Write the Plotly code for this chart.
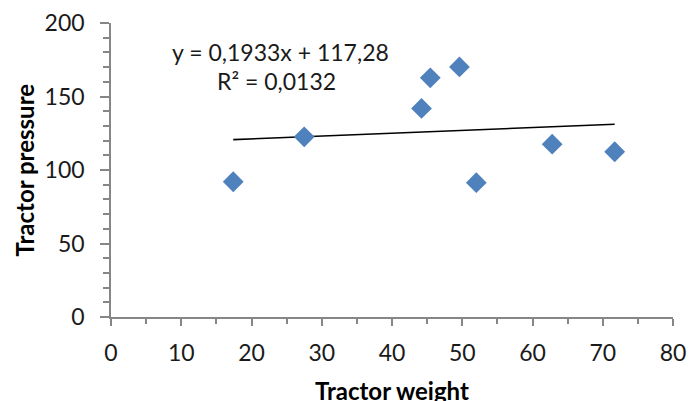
import plotly.graph_objects as go

tractor_weight = [17.4, 27.5, 44.2, 45.45, 49.6, 52.0, 62.8, 71.7]
tractor_pressure = [92.0, 122.6, 141.9, 162.7, 170.1, 91.4, 117.6, 112.4]
trend_slope = 0.1933
trend_intercept = 117.28
equation_text = "y = 0,1933x + 117,28"
r2_text = "R² = 0,0132"
x_title = "Tractor weight"
y_title = "Tractor pressure"

FONT = "Lato"
AXIS_COLOR = "#868686"
TICK_SIZE = 23
TEXT_SIZE = 23
TITLE_SIZE = 24

x0, x1 = min(tractor_weight), max(tractor_weight)
trend_x = [x0, x1]
trend_y = [trend_slope * v + trend_intercept for v in trend_x]

fig = go.Figure()
fig.add_trace(go.Scatter(x=trend_x, y=trend_y, mode="lines",
                         line=dict(color="black", width=1.6),
                         hoverinfo="skip", showlegend=False))
fig.add_trace(go.Scatter(x=tractor_weight, y=tractor_pressure, mode="markers",
                         marker=dict(symbol="diamond", size=16, color="#4F81BD",
                                     line=dict(width=0)),
                         showlegend=False))

fig.add_annotation(x=24.15, y=180.5, xref="x", yref="y", text=equation_text,
                   showarrow=False, font=dict(family=FONT, size=TEXT_SIZE, color="#1a1a1a"),
                   xanchor="center", yanchor="middle")
fig.add_annotation(x=23.6, y=160.5, xref="x", yref="y", text=r2_text,
                   showarrow=False, font=dict(family=FONT, size=TEXT_SIZE, color="#1a1a1a"),
                   xanchor="center", yanchor="middle")

# axis titles
fig.add_annotation(x=0.5, y=-0.25, xref="paper", yref="paper",
                   text="<b>" + x_title + "</b>", showarrow=False,
                   font=dict(family=FONT, size=TITLE_SIZE, color="black"),
                   xanchor="center", yanchor="middle")
fig.add_annotation(x=-0.154, y=0.5, xref="paper", yref="paper",
                   text="<b>" + y_title + "</b>", showarrow=False, textangle=-90,
                   font=dict(family=FONT, size=TITLE_SIZE, color="black"),
                   xanchor="center", yanchor="middle")

fig.update_layout(
    width=689, height=401,
    margin=dict(l=111, r=16, t=23, b=84, autoexpand=False),
    paper_bgcolor="white", plot_bgcolor="white",
    font=dict(family=FONT, size=TICK_SIZE, color="#1a1a1a"),
    xaxis=dict(range=[0, 80], dtick=10, tick0=0, showgrid=False, zeroline=False,
               automargin=False,
               showline=True, linecolor=AXIS_COLOR, linewidth=1.6,
               ticks="outside", ticklen=7, tickwidth=1.6, tickcolor=AXIS_COLOR,
               minor=dict(dtick=5, ticks="outside", ticklen=5, tickwidth=1.6,
                          tickcolor=AXIS_COLOR, showgrid=False),
               ticklabelstandoff=8,
               tickfont=dict(family=FONT, size=TICK_SIZE, color="#1a1a1a")),
    yaxis=dict(range=[0, 200], dtick=50, tick0=0, showgrid=False, zeroline=False,
               automargin=False,
               showline=True, linecolor=AXIS_COLOR, linewidth=1.6,
               ticks="outside", ticklen=9, tickwidth=1.6, tickcolor=AXIS_COLOR,
               minor=dict(dtick=10, ticks="outside", ticklen=6, tickwidth=1.6,
                          tickcolor=AXIS_COLOR, showgrid=False),
               ticklabelstandoff=11,
               tickfont=dict(family=FONT, size=TICK_SIZE, color="#1a1a1a")),
)

fig.write_html("out.html",
               config={"displayModeBar": False},
               post_script="document.body.style.margin='0';document.body.style.overflow='hidden';")
